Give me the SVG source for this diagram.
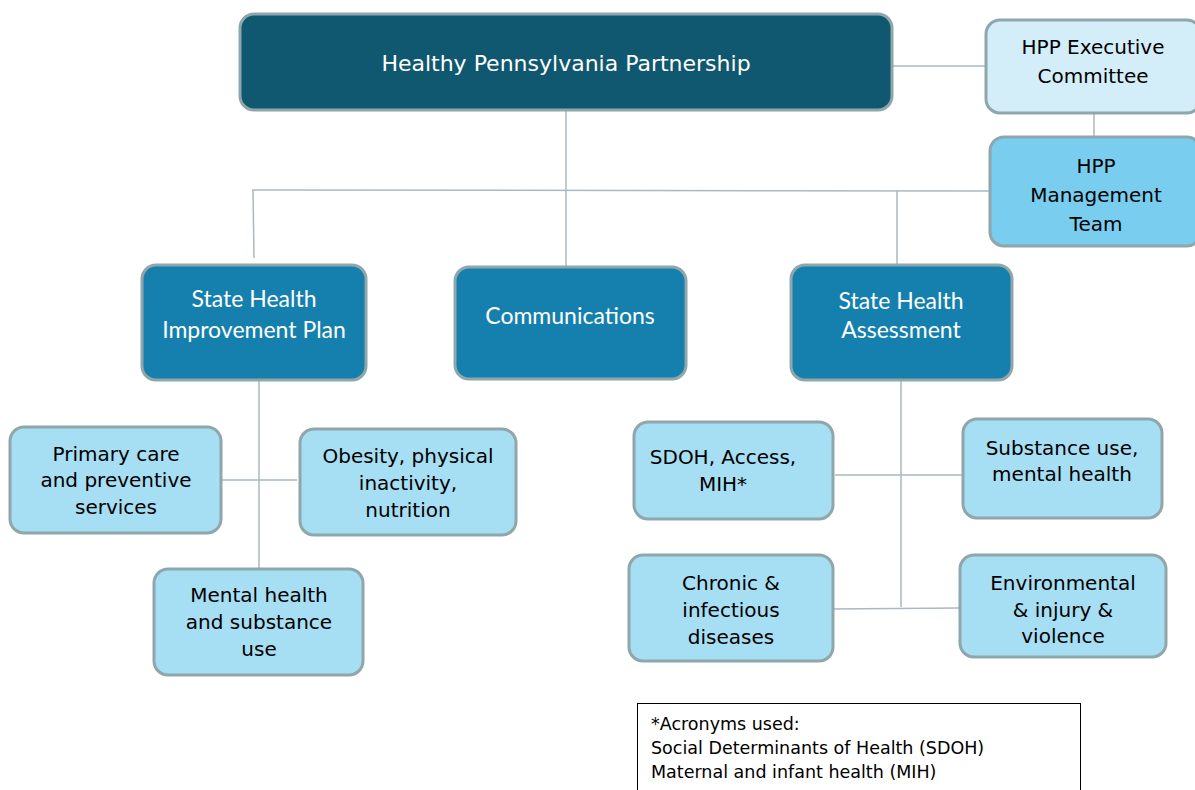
<svg xmlns="http://www.w3.org/2000/svg" width="1195" height="790" viewBox="0 0 1195 790">
<style>
.box{stroke:#8fa6aa;stroke-width:3}
.dark{fill:#10586f}
.mid{fill:#1580ad}
.light{fill:#a6def3}
.pale{fill:#d3eef9}
.mgmt{fill:#79cdef}
.tw{fill:#ffffff;font-family:"DejaVu Sans",sans-serif;text-anchor:middle}
.tb{fill:#000000;font-family:"DejaVu Sans",sans-serif;font-size:20px;text-anchor:middle}
.hd{fill:#ffffff;font-family:"Lato","DejaVu Sans",sans-serif;font-size:23px;text-anchor:middle}
.leg{fill:#000000;font-family:"DejaVu Sans",sans-serif;font-size:17.5px}
.conn{stroke:#a9b9c1;stroke-width:1.5;fill:none}
</style>
<g id="connectors">
<line class="conn" x1="888" y1="66" x2="986" y2="66"/>
<line class="conn" x1="1094" y1="113" x2="1094" y2="137"/>
<line class="conn" x1="566" y1="110" x2="566" y2="266"/>
<line class="conn" x1="252" y1="190" x2="990" y2="191"/>
<line class="conn" x1="253" y1="190" x2="254" y2="258"/>
<line class="conn" x1="897" y1="191" x2="897" y2="265"/>
<line class="conn" x1="259" y1="380" x2="259" y2="569"/>
<line class="conn" x1="221" y1="480" x2="297" y2="480"/>
<line class="conn" x1="901" y1="380" x2="901" y2="607"/>
<line class="conn" x1="835" y1="475" x2="963" y2="475"/>
<line class="conn" x1="830" y1="609" x2="960" y2="608"/>
</g>
<g id="hpp">
<rect class="box dark" x="240" y="14" width="652" height="96" rx="14"/>
<text class="tw" x="566" y="71" font-size="22">Healthy Pennsylvania Partnership</text>
</g>
<g id="exec">
<rect class="box pale" x="986" y="20" width="215" height="93" rx="14"/>
<text class="tb" x="1093" y="54">HPP Executive</text>
<text class="tb" x="1093" y="83">Committee</text>
</g>
<g id="mgmt">
<rect class="box mgmt" x="990" y="137" width="211" height="109" rx="14"/>
<text class="tb" x="1096" y="173">HPP</text>
<text class="tb" x="1096" y="202">Management</text>
<text class="tb" x="1096" y="231">Team</text>
</g>
<g id="ship">
<rect class="box mid" x="142" y="265" width="224" height="115" rx="14"/>
<text class="hd" x="254" y="307">State Health</text>
<text class="hd" x="254" y="338">Improvement Plan</text>
</g>
<g id="comm">
<rect class="box mid" x="455" y="267" width="231" height="112" rx="14"/>
<text class="hd" x="570" y="324">Communications</text>
</g>
<g id="sha">
<rect class="box mid" x="791" y="265" width="221" height="115" rx="14"/>
<text class="hd" x="901" y="309">State Health</text>
<text class="hd" x="901" y="338">Assessment</text>
</g>
<g id="primary">
<rect class="box light" x="10" y="427" width="211" height="106" rx="14"/>
<text class="tb" x="116" y="461">Primary care</text>
<text class="tb" x="116" y="487">and preventive</text>
<text class="tb" x="116" y="514">services</text>
</g>
<g id="obesity">
<rect class="box light" x="300" y="429" width="216" height="106" rx="14"/>
<text class="tb" x="408" y="463">Obesity, physical</text>
<text class="tb" x="408" y="490">inactivity,</text>
<text class="tb" x="408" y="517">nutrition</text>
</g>
<g id="mental">
<rect class="box light" x="154" y="569" width="209" height="106" rx="14"/>
<text class="tb" x="259" y="602">Mental health</text>
<text class="tb" x="259" y="629">and substance</text>
<text class="tb" x="259" y="656">use</text>
</g>
<g id="sdoh">
<rect class="box light" x="634" y="422" width="199" height="97" rx="14"/>
<text class="tb" x="723" y="464">SDOH, Access,</text>
<text class="tb" x="723" y="491">MIH*</text>
</g>
<g id="substance">
<rect class="box light" x="963" y="419" width="199" height="99" rx="14"/>
<text class="tb" x="1062" y="455">Substance use,</text>
<text class="tb" x="1062" y="481">mental health</text>
</g>
<g id="chronic">
<rect class="box light" x="629" y="555" width="204" height="106" rx="14"/>
<text class="tb" x="731" y="590">Chronic &amp;</text>
<text class="tb" x="731" y="617">infectious</text>
<text class="tb" x="731" y="644">diseases</text>
</g>
<g id="environmental">
<rect class="box light" x="960" y="555" width="206" height="102" rx="14"/>
<text class="tb" x="1063" y="590">Environmental</text>
<text class="tb" x="1063" y="617">&amp; injury &amp;</text>
<text class="tb" x="1063" y="643">violence</text>
</g>
<g id="legend">
<rect x="637.5" y="703.5" width="443" height="100" fill="#ffffff" stroke="#000000" stroke-width="1"/>
<text class="leg" x="651" y="730">*Acronyms used:</text>
<text class="leg" x="651" y="754">Social Determinants of Health (SDOH)</text>
<text class="leg" x="651" y="778">Maternal and infant health (MIH)</text>
</g>
</svg>
